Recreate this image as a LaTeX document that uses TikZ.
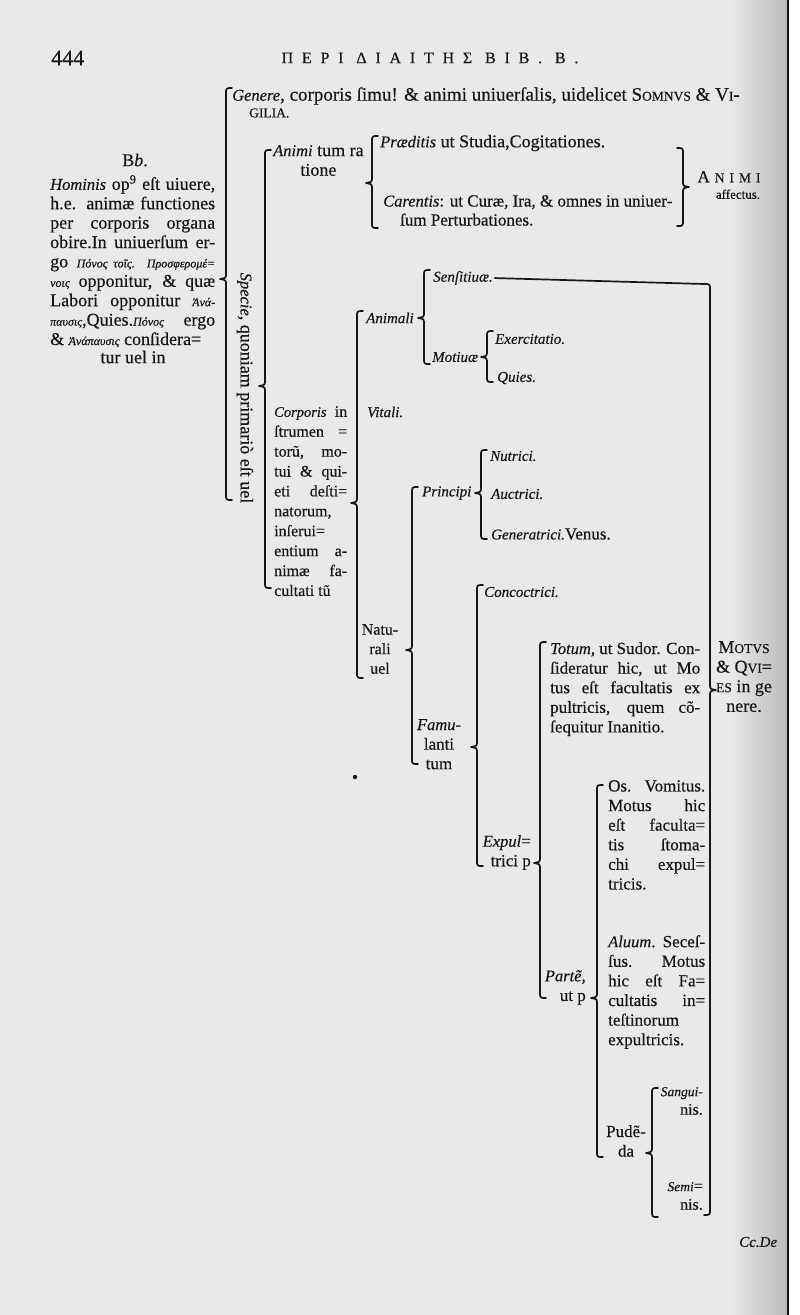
\documentclass[tikz,border=0pt]{standalone}
\usepackage{fontspec}
\setmainfont{Liberation Serif}[FakeBold=0.4]
\definecolor{paper}{HTML}{E9E9E9}
\definecolor{ink}{HTML}{161616}
\newcommand{\smcap}[1]{{\fontsize{13.5}{13.5}\selectfont #1}}
\newcommand{\gk}{\fontsize{12}{19}\selectfont\itshape}
\newcommand{\itl}[1]{{\fontsize{16.5}{16.5}\selectfont\itshape #1}}
% left-facing bracket: x, top, tip, bottom
\newcommand{\lbrk}[4]{%
  \draw[brk] (#1+6,#2) .. controls (#1,#2) .. (#1,#2+6) -- (#1,#3-6)
    .. controls (#1,#3-1) .. (#1-6,#3) .. controls (#1,#3+1) .. (#1,#3+6)
    -- (#1,#4-6) .. controls (#1,#4) .. (#1+6,#4);}
% right-facing bracket
\newcommand{\rbrk}[4]{%
  \draw[brk] (#1-6,#2) .. controls (#1,#2) .. (#1,#2+6) -- (#1,#3-6)
    .. controls (#1,#3-1) .. (#1+6,#3) .. controls (#1,#3+1) .. (#1,#3+6)
    -- (#1,#4-6) .. controls (#1,#4) .. (#1-6,#4);}
\tikzset{
  txt/.style={anchor=west, inner sep=0pt, text=ink, font=\fontsize{18}{19.5}\selectfont},
  lbl/.style={txt, font=\fontsize{15}{19.5}\selectfont\itshape},
  blk/.style={anchor=north west, inner sep=0pt, text=ink, align=left,
    font=\fontsize{18}{19.6}\selectfont},
  note/.style={blk, font=\fontsize{17}{19.6}\selectfont},
  brk/.style={draw=ink, line width=1.7pt, line cap=round, line join=round},
}
\begin{document}
\begin{tikzpicture}[x=1pt,y=-1pt]
  \useasboundingbox (0,0) rectangle (800,1315);
  % the page
  \fill[paper] (0,0) rectangle (800,1315);
  \shade[left color=paper, right color=black!27] (730,0) rectangle (787,1315);
  \fill[white] (789,0) rectangle (800,1315);
  \draw[ink, line width=1.4pt] (788,0) -- (788,1315);

  % running head
  \node[txt, font=\fontsize{22}{22}\selectfont] (pg) at (51,58) {444};
  \node[txt, anchor=center, font=\fontsize{16}{16}\selectfont] (head) at (430,58)
    {\addfontfeatures{LetterSpace=55}ΠΕΡΙ ΔΙΑΙΤΗΣ ΒΙΒ. Β.};

  % the summary on the left
  \node[txt, anchor=center] (bb) at (135,160) {B\textit{b}.};
  \node[blk, text width=165, align=justify, font=\fontsize{18}{19.4}\selectfont] (hom) at (50,175)
    {\itl{Hominis} op\textsuperscript{9} eſt uiuere,\linebreak
     h.e. animæ functiones\linebreak
     per corporis organa\linebreak
     obire.In uniuerſum er-\linebreak
     go {\gk Πόνος τοῖς. Προσφερομέ=}\linebreak
     {\gk νοις} opponitur, \& quæ\linebreak
     Labori opponitur {\gk Ἀνά-}\linebreak
     {\gk παυσις},Quies.{\gk Πόνος} ergo\linebreak
     \& {\gk Ἀνάπαυσις} conſidera=};
  \node[txt, anchor=center] (tur) at (133,357) {tur uel in};

  % first division
  \node[txt, font=\fontsize{19}{19}\selectfont] (gen) at (232,96)
    {\itl{Genere}, corporis ſimu! \& animi uniuerſalis, uidelicet S\smcap{OMNVS} \& V\smcap{I}-};
  \node[txt] (gil) at (249,113) {\smcap{GILIA.}};
  \node[txt, anchor=center, rotate=-90] (spec) at (245,388)
    {\itl{Specie}, quoniam primariò eſt uel};

  \node[blk, align=center] (anim) at (273,145) {\itl{Animi} tum ra\\tione};
  \node[txt] (praed) at (380,143) {\itl{Præditis} ut Studia,Cogitationes.};
  \node[blk, font=\fontsize{17}{19}\selectfont] (car) at (383,195)
    {\itl{Carentis}: ut Curæ, Ira, \& omnes in uniuer-\\\hspace*{17pt}ſum Perturbationes.};
  \node[txt, anchor=center, align=center] (affect) at (729,185)
    {\fontsize{17}{17}\selectfont A\hspace{5pt}\smcap{N\hspace{5pt}I\hspace{5pt}M\hspace{5pt}I}\\[-3pt]\hspace*{18pt}{\fontsize{13}{13}\selectfont affectus.}};

  \node[blk, text width=73, align=justify, font=\fontsize{16}{19.9}\selectfont] (corp) at (274,406)
    {{\fontsize{14.5}{14}\selectfont\itshape Corporis} in\linebreak ſtrumen =\linebreak torũ, mo-\linebreak
     tui \& qui-\linebreak eti deſti=\linebreak natorum,\linebreak
     inſerui=\linebreak entium a-\linebreak nimæ fa-\linebreak cultati tũ};

  % instruments of the body
  \node[lbl] (anima) at (366,318) {Animali};
  \node[lbl] (vit) at (367,412) {Vitali.};
  \node[blk, anchor=north, align=center, font=\fontsize{16}{19.5}\selectfont] (natu) at (380,624)
    {Natu-\\rali\\uel};

  \node[lbl] (sens) at (433,278) {Senſitiuæ.};
  \node[lbl] (mot) at (432,357) {Motiuæ};
  \node[lbl] (exer) at (495,339) {Exercitatio.};
  \node[lbl] (qui) at (497,378) {Quies.};

  \node[lbl] (princ) at (422,493) {Principi};
  \node[lbl] (nutr) at (490,456) {Nutrici.};
  \node[lbl] (auct) at (491,494) {Auctrici.};
  \node[lbl] (gener) at (491,534) {Generatrici.\textup{\fontsize{17}{17}\selectfont Venus.}};

  \node[blk, anchor=north, align=center, font=\fontsize{17}{19.6}\selectfont] (famu) at (439,719)
    {\itl{Famu-}\\lanti\\tum};
  \node[lbl] (conc) at (484,592) {Concoctrici.};
  \node[blk, anchor=north east, align=right, font=\fontsize{17}{19.6}\selectfont] (expul) at (531,835)
    {\itl{Expul}=\\trici p};

  \node[note, text width=150, align=justify] (tot) at (550,642)
    {\hangindent=20pt\hangafter=1 \itl{Totum}, ut Sudor. Con-\linebreak
     ſideratur hic, ut Mo\linebreak tus eſt facultatis ex\linebreak
     pultricis, quem cõ-\linebreak ſequitur Inanitio.};
  \node[blk, anchor=north east, align=right, font=\fontsize{17}{19.6}\selectfont] (parte) at (586,970)
    {\itl{Partẽ},\\ut p};

  \node[note, text width=97, align=justify] (os) at (608,780)
    {\hangindent=17pt\hangafter=1 Os. Vomitus.\linebreak Motus hic\linebreak
     eſt faculta=\linebreak tis ſtoma-\linebreak chi expul=\linebreak tricis.};
  \node[note, text width=97, align=justify] (alu) at (608,935)
    {\hangindent=17pt\hangafter=1 \itl{Aluum}. Seceſ-\linebreak ſus. Motus\linebreak
     hic eſt Fa=\linebreak cultatis in=\linebreak teſtinorum\linebreak expultricis.};
  \node[blk, anchor=north, align=center, font=\fontsize{17}{19.6}\selectfont] (pude) at (626,1125)
    {Pudẽ-\\da};
  \node[blk, anchor=north east, align=right, font=\fontsize{16}{18.5}\selectfont] (sang) at (703,1087)
    {{\fontsize{13.5}{13.5}\selectfont\itshape Sangui-}\\nis.};
  \node[blk, anchor=north east, align=right, font=\fontsize{16}{18.5}\selectfont] (semi) at (703,1182)
    {{\fontsize{13.5}{13.5}\selectfont\itshape Semi}=\\nis.};

  \node[blk, anchor=north, align=center] (motus) at (744,641)
    {M\smcap{OTVS}\\\& Q\smcap{VI}=\\\smcap{ES} in ge\\nere.};
  \node[txt, font=\fontsize{15}{15}\selectfont\itshape] (cc) at (739,1242) {Cc.De};
  \fill[ink] (355,777) circle (2.2);

  % the brackets
  \lbrk{226}{88}{279}{500}
  \lbrk{265}{150}{386}{588}
  \lbrk{372}{136}{183}{228}
  \lbrk{357}{311}{503}{678}
  \lbrk{424}{270}{318}{364}
  \lbrk{487}{331}{357}{382}
  \lbrk{412}{487}{650}{764}
  \lbrk{481}{450}{493}{539}
  \lbrk{477}{585}{747}{866}
  \lbrk{540}{642}{863}{998}
  \lbrk{597}{785}{998}{1157}
  \lbrk{652}{1088}{1153}{1217}
  \rbrk{683}{148}{187}{226}
  \rbrk{710}{284}{690}{1215}
  \coordinate (mtop) at (704,284);
  \draw[brk, shorten <=2pt] (sens.east) -- (mtop);
\end{tikzpicture}
\end{document}
